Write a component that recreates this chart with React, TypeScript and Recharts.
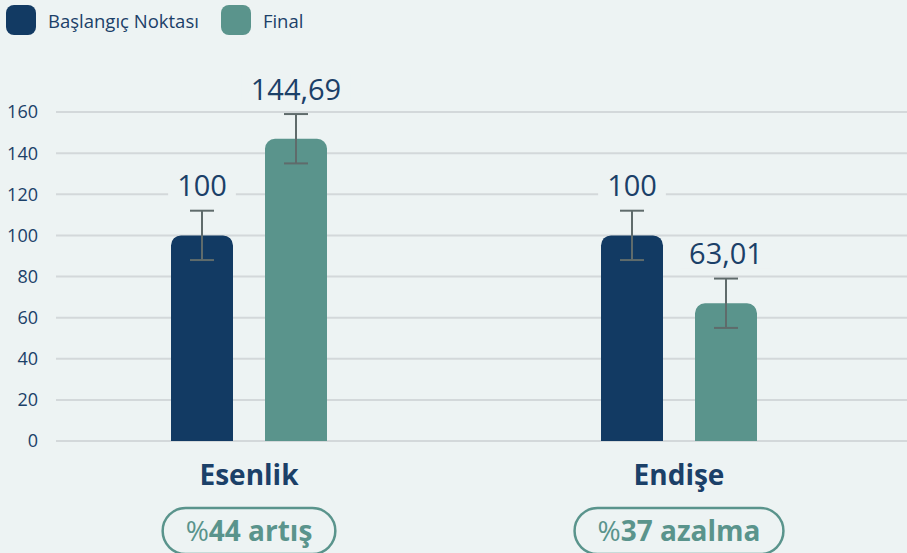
import React from 'react';
import {
  BarChart,
  Bar,
  XAxis,
  YAxis,
  CartesianGrid,
  Legend,
  LabelList,
  ErrorBar,
} from 'recharts';

const CATEGORIES = ['Esenlik', 'Endişe'];
const BASE_VALUES = [100, 100];
const FINAL_VALUES = [147, 67];
const BASE_ERRORS = [12, 12];
const FINAL_ERRORS = [12, 12];
const BASE_LABELS = ['100', '100'];
const FINAL_LABELS = ['144,69', '63,01'];
const CHANGE_PCT = ['44', '37'];
const CHANGE_WORD = ['artış', 'azalma'];
const Y_TICKS = [0, 20, 40, 60, 80, 100, 120, 140, 160];

const BG = '#edf3f3';
const NAVY = '#123a63';
const TEAL = '#5a948c';
const TEXT = '#1b4068';
const FONT = '"Open Sans", sans-serif';

const data = CATEGORIES.map((name, i) => ({
  name,
  base: BASE_VALUES[i],
  final: FINAL_VALUES[i],
  baseErr: BASE_ERRORS[i],
  finalErr: FINAL_ERRORS[i],
}));

let canvas: HTMLCanvasElement | null = null;
function textWidth(text: string, font: string): number {
  if (!canvas) canvas = document.createElement('canvas');
  const ctx = canvas.getContext('2d')!;
  ctx.font = font;
  return ctx.measureText(text).width;
}

// value label drawn above the error bar, with a patch of background behind it
function valueLabel(labels: string[]) {
  return (props: any) => {
    const x = Number(props.x);
    const y = Number(props.y);
    const w = Number(props.width);
    const text = labels[props.index];
    const cx = x + w / 2;
    const base = y - 39;
    const tw = textWidth(text, `29px ${FONT}`);
    return (
      <g>
        <rect x={cx - tw / 2 - 9} y={base - 26} width={tw + 18} height={30} fill={BG} />
        <text x={cx} y={base} textAnchor="middle" fontSize={29} fill={TEXT} fontFamily={FONT}>
          {text}
        </text>
      </g>
    );
  };
}

function CategoryTick(props: any) {
  const { x, y, payload, index } = props;
  const pct = CHANGE_PCT[index];
  const word = CHANGE_WORD[index];
  const tw =
    textWidth('%', `28px ${FONT}`) +
    textWidth(`${pct} ${word}`, `bold 28px ${FONT}`);
  const pw = tw + 46;
  return (
    <g>
      <text x={x} y={y + 36} textAnchor="middle" fontSize={28} fontWeight={700} fill={TEXT} fontFamily={FONT}>
        {payload.value}
      </text>
      <rect x={x - pw / 2} y={y + 59} width={pw} height={46} rx={23} fill="none" stroke={TEAL} strokeWidth={2.5} />
      <text x={x} y={y + 92} textAnchor="middle" fontSize={28} fill={TEAL} fontFamily={FONT}>
        <tspan>%</tspan>
        <tspan fontWeight={700}>{`${pct} ${word}`}</tspan>
      </text>
    </g>
  );
}

function LegendContent(props: any) {
  const { payload } = props;
  return (
    <div style={{ display: 'flex', alignItems: 'center', height: 40, fontFamily: FONT }}>
      {(payload || []).map((entry: any) => (
        <div key={entry.value} style={{ display: 'flex', alignItems: 'center', marginLeft: 6, marginRight: 16 }}>
          <div style={{ width: 30, height: 30, borderRadius: 8, background: entry.color }} />
          <span style={{ marginLeft: 12, fontSize: 18.5, color: TEXT }}>{entry.value}</span>
        </div>
      ))}
    </div>
  );
}

export default function App() {
  return (
    <div style={{ position: 'fixed', left: 0, top: 0, width: 907, height: 553, background: BG }}>
      <BarChart
        width={907}
        height={553}
        data={data}
        margin={{ top: 72, right: 0, bottom: 0, left: 0 }}
        barSize={62}
        barGap={32}
      >
        <Legend
          verticalAlign="top"
          align="left"
          content={LegendContent}
          wrapperStyle={{ left: 0, top: 0 }}
        />
        <CartesianGrid vertical={false} stroke="#d3d8da" strokeWidth={2} />
        <XAxis
          dataKey="name"
          axisLine={false}
          tickLine={false}
          height={112}
          padding={{ left: -22, right: 13 }}
          tick={CategoryTick}
          interval={0}
        />
        <YAxis
          domain={[0, 160]}
          ticks={Y_TICKS}
          width={56}
          axisLine={false}
          tickLine={false}
          tickMargin={12}
          tick={{ fontSize: 18, fill: TEXT, fontFamily: FONT }}
        />
        <Bar dataKey="base" name="Başlangıç Noktası" fill={NAVY} radius={[10, 10, 0, 0]} isAnimationActive={false}>
          <ErrorBar dataKey="baseErr" width={12} stroke="#5f6b6b" strokeWidth={2} />
          <LabelList dataKey="base" content={valueLabel(BASE_LABELS)} />
        </Bar>
        <Bar dataKey="final" name="Final" fill={TEAL} radius={[10, 10, 0, 0]} isAnimationActive={false}>
          <ErrorBar dataKey="finalErr" width={12} stroke="#5f6b6b" strokeWidth={2} />
          <LabelList dataKey="final" content={valueLabel(FINAL_LABELS)} />
        </Bar>
      </BarChart>
    </div>
  );
}
